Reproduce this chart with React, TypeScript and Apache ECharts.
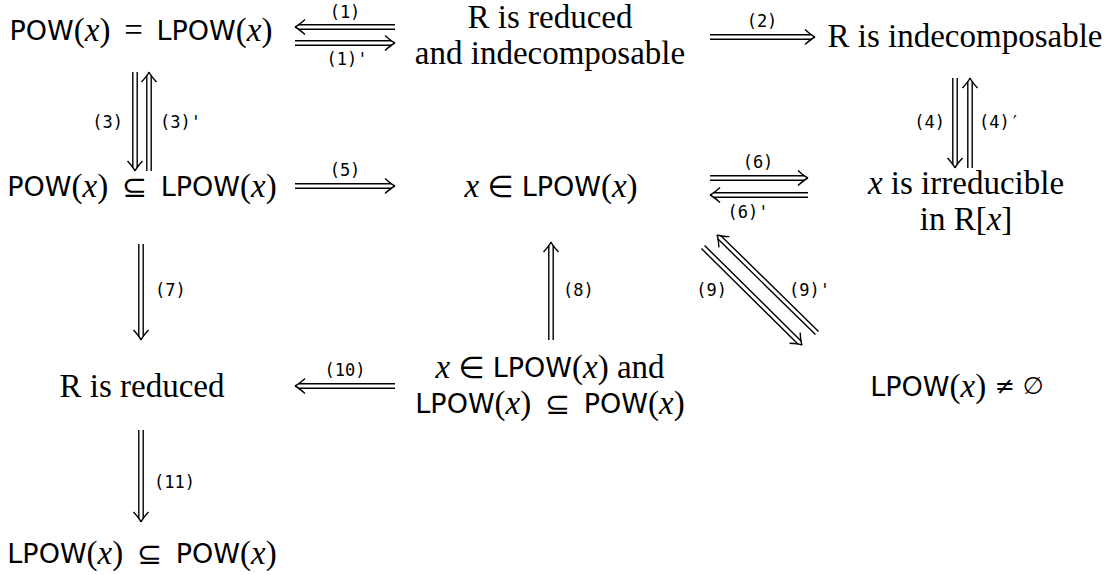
import React, { useEffect, useRef } from 'react';
import * as echarts from 'echarts';

// ---- content (diagram data) ----
const SP = '\u2006';
const nodeText: string[][] = [
  [`{s|POW}{r|(}{i|x}{r|)${SP} = ${SP}}{s|LPOW}{r|(}{i|x}{r|)}`],
  ['{r|R is reduced}', '{r|and indecomposable}'],
  ['{r|R is indecomposable}'],
  [`{s|POW}{r|(}{i|x}{r|)${SP} }{m|⊆}{r| ${SP}}{s|LPOW}{r|(}{i|x}{r|)}`],
  ['{i|x}{r| }{m|∈}{r| }{s|LPOW}{r|(}{i|x}{r|)}'],
  ['{i|x}{r| is irreducible}', '{r|in R[}{i|x}{r|]}'],
  ['{r|R is reduced}'],
  ['{i|x}{r| }{m|∈}{r| }{s|LPOW}{r|(}{i|x}{r|) and}', `{s|LPOW}{r|(}{i|x}{r|)${SP} }{m|⊆}{r| ${SP}}{s|POW}{r|(}{i|x}{r|)}`],
  ['{s|LPOW}{r|(}{i|x}{r|) }{n|≠}{r| }{n|∅}'],
  [`{s|LPOW}{r|(}{i|x}{r|)${SP} }{m|⊆}{r| ${SP}}{s|POW}{r|(}{i|x}{r|)}`],
];
const edgeLabels = ['(1)', "(1)'", '(2)', '(3)', "(3)'", '(4)', '(4)′', '(5)', '(6)', "(6)'", '(7)', '(8)', '(9)', "(9)'", '(10)', '(11)'];
const edgeFrom = [1, 0, 1, 0, 3, 2, 5, 3, 4, 5, 3, 7, 4, 8, 7, 6];
const edgeTo = [0, 1, 2, 3, 0, 5, 2, 4, 5, 4, 6, 4, 8, 4, 6, 9];

// ---- layout (positions in diagram units) ----
const nodeCenter: number[][] = [
  [141, 30], [550, 35], [965, 36],
  [142, 186], [551, 186], [966, 201],
  [142, 386], [550, 385], [957, 386],
  [142, 553],
];
const LINE_GAP = 36;
// arrow start/end
const edgeGeom: number[][] = [
  [395, 27, 295, 27],
  [295, 43, 395, 43],
  [710, 37, 815, 37],
  [135, 72, 135, 171],
  [149, 171, 149, 72],
  [955, 78, 955, 168],
  [970, 168, 970, 78],
  [295, 186, 395, 186],
  [710, 178, 808, 178],
  [808, 195, 710, 195],
  [141, 244, 141, 340],
  [551, 340, 551, 242],
  [703, 247, 802, 345],
  [817, 333, 717, 235],
  [395, 386, 295, 386],
  [141, 430, 141, 522],
];
// label position + alignment
const edgeLabelPos: [number, number, string][] = [
  [345, 12, 'center'], [347, 59, 'center'], [762, 21, 'center'],
  [123, 122, 'right'], [160, 122, 'left'],
  [945, 122, 'right'], [979, 122, 'left'],
  [345, 170, 'center'], [758, 162, 'center'], [748, 212, 'center'],
  [155, 290, 'left'], [563, 290, 'left'],
  [727, 290, 'right'], [789, 290, 'left'],
  [345, 370, 'center'], [154, 482, 'left'],
];

const SERIF = 'Liberation Serif';
const SANS = 'DejaVu Sans';
const MONO = 'DejaVu Sans Mono';

export default function App() {
  const ref = useRef<HTMLDivElement>(null);
  useEffect(() => {
    const chart = echarts.init(ref.current!, null, { renderer: 'svg' });
    const rich = {
      s: { fontFamily: SANS, fontSize: 27, fill: '#000' },
      r: { fontFamily: SERIF, fontSize: 33, fill: '#000' },
      i: { fontFamily: SERIF, fontSize: 33, fontStyle: 'italic', fill: '#000' },
      m: { fontFamily: SANS, fontSize: 30, fill: '#000' },
      n: { fontFamily: SANS, fontSize: 24, fill: '#000' },
    };
    const graphics: any[] = [];
    nodeText.forEach((lines, ni) => {
      const [cx, cy] = nodeCenter[ni];
      const n = lines.length;
      lines.forEach((t, li) => {
        graphics.push({
          type: 'text',
          x: cx,
          y: cy + (li - (n - 1) / 2) * LINE_GAP,
          silent: true,
          style: { text: t, rich, align: 'center', verticalAlign: 'middle', textAlign: 'center', textVerticalAlign: 'middle', fill: '#000' },
        });
      });
    });
    edgeLabels.forEach((lab, ei) => {
      const [lx, ly, al] = edgeLabelPos[ei];
      graphics.push({
        type: 'text',
        x: lx,
        y: ly,
        silent: true,
        style: { text: lab, fontFamily: MONO, fontSize: 17, fill: '#000', align: al, verticalAlign: 'middle', textAlign: al, textVerticalAlign: 'middle' },
      });
    });

    const option: any = {
      animation: false,
      backgroundColor: '#fff',
      grid: { left: 0, right: 0, top: 0, bottom: 0 },
      xAxis: { type: 'value', min: 0, max: 1110, show: false },
      yAxis: { type: 'value', min: 0, max: 575, inverse: true, show: false },
      graphic: graphics,
      series: [
        {
          type: 'custom',
          silent: true,
          clip: false,
          encode: { x: [0, 2], y: [1, 3] },
          data: edgeGeom.map((g, i) => ({ value: g, name: `${edgeFrom[i]}->${edgeTo[i]}` })),
          renderItem: (params: any, api: any) => {
            const p1 = api.coord([api.value(0), api.value(1)]);
            const p2 = api.coord([api.value(2), api.value(3)]);
            const dx = p2[0] - p1[0];
            const dy = p2[1] - p1[1];
            const len = Math.sqrt(dx * dx + dy * dy);
            const ux = dx / len, uy = dy / len;
            const px = -uy, py = ux;
            const gap = 2.2;
            const shaftEnd = [p2[0] - ux * 3.2, p2[1] - uy * 3.2];
            const st = { stroke: '#000', lineWidth: 1.4, fill: null };
            const children: any[] = [];
            [-1, 1].forEach((s) => {
              children.push({
                type: 'line',
                shape: {
                  x1: p1[0] + px * gap * s, y1: p1[1] + py * gap * s,
                  x2: shaftEnd[0] + px * gap * s, y2: shaftEnd[1] + py * gap * s,
                },
                style: st,
              });
              children.push({
                type: 'bezierCurve',
                shape: {
                  x1: p2[0], y1: p2[1],
                  x2: p2[0] - ux * 10 + px * 7.5 * s, y2: p2[1] - uy * 10 + py * 7.5 * s,
                  cpx1: p2[0] - ux * 3.5 + px * 1.6 * s, cpy1: p2[1] - uy * 3.5 + py * 1.6 * s,
                },
                style: st,
              });
            });
            return { type: 'group', children };
          },
        },
      ],
    };
    chart.setOption(option);
    return () => chart.dispose();
  }, []);
  return <div ref={ref} style={{ position: 'fixed', left: 0, top: 0, width: 1110, height: 575, background: '#fff' }} />;
}
